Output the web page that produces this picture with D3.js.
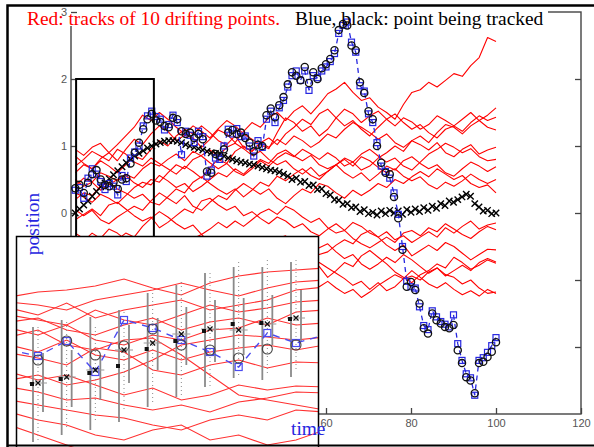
<!DOCTYPE html>
<html>
<head>
<meta charset="utf-8">
<script src="https://cdn.jsdelivr.net/npm/d3@7"></script>
<style>
  body { margin: 0; background: #fff; }
  svg { display: block; }
</style>
</head>
<body>
<svg id="chart" width="594" height="447"></svg>
<script>
// ---------- data ----------
// Drifting reference tracks (position), sampled on an even grid from t=1 to t=100
const trackA = [0.60,0.72,0.66,0.81,0.90,0.78, 0.95,1.10,1.02,1.18,1.30, 1.22,1.08,1.16,1.12,0.98, 1.10,1.24,1.18,1.05,1.22, 1.35,1.28,1.42,1.50,1.38, 1.52,1.60,1.48,1.62,1.78, 1.85,1.95,1.80,1.68,1.72, 1.58,1.50,1.40,1.62,1.80, 1.84,1.95,1.88,1.98,2.08, 2.04,2.20,2.32,2.62,2.56];
const trackB = [0.95,0.86,0.98,1.04,0.90,1.02, 1.15,1.28,1.46,1.38,1.50, 1.40,1.28,1.18,1.30,1.22, 1.12,1.26,1.38,1.30,1.18, 1.10,1.02,0.96,1.20,1.42, 1.35,1.22,1.30,1.15,1.25, 1.42,1.55,1.48,1.35,1.45, 1.52,1.40,1.30,1.42,1.36, 1.25,1.32,1.45,1.38,1.30, 1.40,1.50,1.38,1.46,1.57];
const trackC = [0.85,0.74,0.66,0.78,0.70,0.60, 0.72,0.85,0.80,0.95,1.08, 1.00,1.15,1.25,1.18,1.30, 1.20,1.08,1.02,1.15,0.98, 0.92,1.05,1.12,1.02,1.18, 1.28,1.40,1.32,1.48,1.55, 1.42,1.30,1.38,1.25,1.15, 1.28,1.40,1.48,1.35,1.25, 1.32,1.20,1.12,1.25,1.30, 1.22,1.35,1.45,1.38,1.43];
const trackD = [0.70,0.80,0.92,0.85,0.78,0.95, 0.88,0.76,0.70,0.82,0.74, 0.66,0.58,0.70,0.62,0.52, 0.68,0.80,0.74,0.92,1.00, 0.92,1.05,0.98,1.10,1.02, 1.15,1.08,0.98,1.06,1.18, 1.12,1.25,1.35,1.28,1.20, 1.10,1.18,1.05,0.98,1.08, 1.15,1.05,1.20,1.32,1.28, 1.18,1.30,1.38,1.28,1.24];
const trackE = [0.50,0.40,0.46,0.34,0.42,0.50, 0.58,0.52,0.66,0.75,0.70, 0.80,0.88,0.78,0.92,0.85, 0.75,0.66,0.74,0.62,0.56, 0.66,0.78,0.70,0.82,0.90, 0.84,0.95,0.88,0.80,0.90, 0.82,0.70,0.76,0.64,0.70, 0.82,0.90,1.00,0.92,1.08, 1.02,0.94,1.05,0.90,0.84, 0.95,1.02,0.88,0.94,0.98];
const trackF = [0.40,0.52,0.46,0.60,0.55,0.48, 0.56,0.45,0.38,0.50,0.46, 0.60,0.72,0.66,0.80,0.86, 0.94,0.85,0.98,1.04,0.96, 0.86,0.92,0.80,0.72,0.78, 0.66,0.58,0.68,0.55,0.62, 0.72,0.82,0.76,0.88,0.95, 0.85,0.76,0.82,0.70,0.64, 0.76,0.88,0.95,1.04,0.98, 0.90,0.96,0.84,0.78,0.80];
const trackG = [0.30,0.24,0.16,0.28,0.22,0.14, 0.26,0.38,0.46,0.42,0.56, 0.48,0.38,0.44,0.32,0.40, 0.50,0.60,0.54,0.66,0.58, 0.70,0.80,0.74,0.88,0.94, 0.85,0.78,0.86,0.72,0.66, 0.72,0.60,0.52,0.60,0.48, 0.58,0.70,0.64,0.78,0.84, 0.74,0.66,0.72,0.60,0.55, 0.66,0.76,0.70,0.62,0.69];
const trackH = [0.20,0.30,0.26,0.40,0.46,0.36, 0.30,0.22,0.28,0.16,0.12, 0.24,0.36,0.30,0.46,0.54, 0.44,0.35,0.28,0.36,0.24, 0.34,0.46,0.40,0.55,0.48, 0.58,0.66,0.56,0.50,0.62, 0.72,0.80,0.70,0.84,0.78, 0.68,0.60,0.66,0.55,0.48, 0.54,0.42,0.36,0.46,0.40, 0.48,0.58,0.50,0.44,0.50];
const trackI = [0.05,-0.04,0.04,-0.10,-0.16,-0.06, 0.02,0.10,0.04,0.18,0.30, 0.22,0.14,0.26,0.10,0.04, 0.16,0.26,0.20,0.34,0.44, 0.36,0.28,0.36,0.22,0.14, 0.26,0.36,0.30,0.44,0.40, 0.30,0.22,0.34,0.26,0.34, 0.44,0.38,0.50,0.44,0.54, 0.62,0.54,0.66,0.58,0.50, 0.56,0.44,0.38,0.42,0.30];
const trackJ = [-0.10,-0.02,0.06,-0.04,0.12,0.16, 0.06,-0.04,-0.12,-0.06,-0.22, -0.14,-0.04,0.06,0.00,0.18, 0.22,0.12,0.04,0.10,-0.04, 0.02,-0.08,-0.16,-0.06,-0.12, -0.22,-0.16,-0.28,-0.34,-0.24, -0.16,-0.26,-0.14,-0.20,-0.30, -0.36,-0.28,-0.40,-0.34,-0.44, -0.36,-0.28,-0.36,-0.22,-0.30, -0.20,-0.12,-0.24,-0.18,-0.15];
const trackK = [-0.30,-0.38,-0.48,-0.40,-0.50,-0.40, -0.30,-0.36,-0.20,-0.08,0.02, -0.06,-0.16,-0.24,-0.18,-0.32, -0.24,-0.14,-0.22,-0.12,-0.20, -0.10,0.00,0.06,-0.02,0.10, 0.04,-0.06,-0.14,-0.08,-0.22, -0.30,-0.26,-0.38,-0.46,-0.52, -0.44,-0.36,-0.44,-0.30,-0.26, -0.34,-0.22,-0.28,-0.16,-0.24, -0.32,-0.38,-0.28,-0.20,-0.25];
const trackL = [-0.50,-0.42,-0.30,-0.38,-0.24,-0.30, -0.40,-0.52,-0.46,-0.58,-0.64, -0.52,-0.44,-0.54,-0.38,-0.32, -0.44,-0.56,-0.62,-0.54,-0.66, -0.56,-0.44,-0.50,-0.38,-0.34, -0.46,-0.56,-0.50,-0.62,-0.58, -0.48,-0.40,-0.46,-0.32,-0.26, -0.36,-0.48,-0.56,-0.48,-0.64, -0.56,-0.48,-0.56,-0.44,-0.50, -0.60,-0.70,-0.62,-0.54,-0.55];
const trackM = [-0.70,-0.80,-0.74,-0.88,-0.82,-0.72, -0.66,-0.74,-0.58,-0.50,-0.46, -0.56,-0.68,-0.62,-0.76,-0.84, -0.74,-0.66,-0.56,-0.62,-0.48, -0.58,-0.66,-0.76,-0.66,-0.72, -0.62,-0.54,-0.44,-0.52,-0.46, -0.58,-0.68,-0.62,-0.76,-0.84, -0.76,-0.66,-0.74,-0.62,-0.70, -0.80,-0.90,-0.82,-0.94,-0.86, -0.78,-0.86,-0.74,-0.68,-0.73];
const trackN = [-0.90,-0.80,-0.86,-0.72,-0.66,-0.74, -0.84,-0.78,-0.92,-0.98,-1.04, -0.94,-0.86,-0.76,-0.82,-0.66, -0.74,-0.84,-0.90,-0.80,-0.96, -0.86,-0.76,-0.68,-0.74,-0.58, -0.66,-0.78,-0.86,-0.80,-0.96, -0.86,-0.74,-0.80,-0.64,-0.56, -0.66,-0.76,-0.88,-0.96,-1.04, -0.92,-0.86,-0.76,-0.82,-0.66, -0.74,-0.84,-0.78,-0.70,-0.75];
const trackO = [-1.20,-1.10,-1.14,-1.00,-0.94,-1.02, -0.90,-0.84,-0.94,-0.86,-0.96, -1.04,-0.98,-1.10,-1.16,-1.06, -0.98,-1.04,-0.90,-0.82,-0.78, -0.88,-0.96,-1.06,-1.00,-0.92, -0.86,-0.94,-0.80,-0.74,-0.82, -0.90,-0.98,-1.08,-1.02,-1.14, -1.04,-1.16,-1.10,-0.98,-0.94, -1.00,-0.88,-0.82,-0.92,-0.96, -1.06,-1.00,-1.12,-1.20,-1.18];
const trackP = [-1.50,-1.42,-1.36,-1.44,-1.30,-1.24, -1.32,-1.22,-1.16,-1.26,-1.20, -1.10,-1.02,-0.96,-1.04,-0.88, -0.96,-1.08,-1.14,-1.06,-1.22, -1.14,-1.04,-0.94,-1.00,-0.88, -0.96,-1.06,-1.00,-1.10,-1.02, -1.12,-1.20,-1.14,-1.26,-1.18, -1.08,-1.00,-0.92,-0.98,-0.86, -0.96,-1.06,-1.12,-1.04,-1.14, -1.22,-1.16,-1.24,-1.14,-1.20];
const redTracks = [trackA,trackB,trackC,trackD,trackE,trackF,trackG,trackH,trackI,trackJ,trackK,trackL,trackM,trackN,trackO,trackP];
const trackTimes = d3.range(trackA.length).map(i => 1 + i * 99 / (trackA.length - 1));

// Tracked point: one sample per time step t = 1..100
const stepTimes = d3.range(1, 101);
// black x: smoothed estimate
const smoothEst = [
  0.00,0.06,0.12,0.18,0.25,0.32,0.39,0.45,0.51,0.57,
  0.63,0.69,0.75,0.80,0.85,0.89,0.93,0.97,1.00,1.03,
  1.05,1.07,1.08,1.08,1.07,1.05,1.02,1.00,0.98,0.96,
  0.94,0.92,0.90,0.89,0.88,0.85,0.82,0.80,0.78,0.76,
  0.75,0.73,0.72,0.70,0.68,0.66,0.64,0.63,0.61,0.58,
  0.55,0.50,0.52,0.46,0.47,0.41,0.42,0.35,0.36,0.29,
  0.27,0.20,0.19,0.13,0.14,0.08,0.09,0.02,0.05,-0.01,
  0.01,-0.03,0.03,-0.01,0.04,0.00,0.03,-0.02,0.05,0.01,
  0.06,0.02,0.08,0.04,0.10,0.07,0.14,0.11,0.18,0.16,
  0.20,0.24,0.28,0.25,0.14,0.09,0.03,0.04,-0.01,0.00];
// black circles: filtered position
const filtered = [
  0.37,0.42,0.30,0.45,0.58,0.64,0.50,0.42,0.40,0.46,
  0.36,0.50,0.52,0.74,0.90,1.05,1.25,1.40,1.48,1.38,
  1.36,1.30,1.28,1.42,1.40,1.22,1.18,1.20,1.12,1.18,
  1.10,0.62,0.60,0.88,0.85,0.95,1.20,1.24,1.18,1.20,
  1.12,1.05,0.92,1.02,1.00,1.46,1.56,1.43,1.61,1.73,
  1.92,2.10,2.05,1.98,2.18,1.94,2.10,2.00,2.16,2.22,
  2.30,2.43,2.73,2.82,2.80,2.50,2.43,1.95,1.79,1.52,
  1.40,1.00,0.75,0.60,0.58,0.24,-0.08,-0.55,-1.10,-1.03,
  -1.15,-1.35,-1.72,-1.80,-1.50,-1.60,-1.65,-1.70,-1.72,-1.67,
  -2.05,-2.24,-2.45,-2.50,-2.69,-2.24,-2.22,-2.15,-2.07,-1.93];
// blue squares: measured position
const measured = [
  0.34,0.38,0.22,0.52,0.66,0.58,0.47,0.35,0.44,0.40,
  0.27,0.56,0.47,0.82,0.91,1.00,1.30,1.45,1.52,1.44,
  1.40,1.24,1.32,1.46,1.35,0.87,1.22,1.16,1.05,1.22,
  1.14,0.55,0.64,0.82,0.80,1.00,1.25,1.18,1.26,1.14,
  1.15,1.00,0.85,1.08,0.98,1.40,1.52,1.35,1.57,1.68,
  1.88,2.05,2.12,1.98,2.12,1.83,2.05,2.02,2.12,2.18,
  2.26,2.38,2.68,2.80,2.85,2.55,2.40,1.90,1.82,1.48,
  1.35,1.05,0.70,0.62,0.52,0.30,-0.02,-0.50,-1.02,-1.10,
  -1.12,-1.40,-1.68,-1.74,-1.46,-1.55,-1.62,-1.66,-1.70,-1.52,
  -1.95,-2.20,-2.40,-2.46,-2.72,-2.20,-2.16,-2.08,-1.98,-1.86];

const yTicks = [-3, -2, -1, 0, 1, 2, 3];
const xTicks = [0, 20, 40, 60, 80, 100, 120];
const zoomWindow = { t0: 1.2, t1: 19.5, top: 2, bottom: -3 };

// Close-up panel: ten consecutive steps
const insetSteps = d3.range(1, 11);
const insetLineSteps = d3.range(0, 12);
const insetSmoothSq = [-0.48,-0.43,-0.37,-0.30,-0.13,-0.05,0.05,0.12,0.13,0.17];
const insetSmoothX  = [-0.47,-0.41,-0.34,-0.14,-0.07,0.02,0.07,0.06,0.12,0.18];
const insetFiltered = [-0.24,-0.05,-0.19,-0.10,0.07,-0.09,-0.14,-0.22,-0.13,-0.09];
const insetMeasured = [-0.14,-0.20,-0.05,-0.36,0.16,0.08,-0.04,-0.16,-0.31,0.03,-0.07,0.01];
const insetOuterHi = [0.09,0.16,0.19,0.26,0.43,0.51,0.63,0.69,0.69,0.74];
const insetOuterLo = [-1.06,-0.99,-0.94,-0.86,-0.71,-0.61,-0.51,-0.42,-0.44,-0.41];
const insetInnerHi = [-0.17,-0.14,-0.19,0.11,0.18,0.29,0.36,0.38,0.41,0.46];
const insetInnerLo = [-0.76,-0.71,-0.64,-0.47,-0.34,-0.29,-0.26,-0.19,-0.09,-0.06];
const insetDotHi = [0.09,0.14,0.09,0.24,0.43,0.54,0.63,0.74,0.76,0.76];
const insetDotLo = [-1.07,-0.94,-0.87,-0.76,-0.67,-0.61,-0.51,-0.41,-0.37,-0.34];
const insetTracks = [
  [0.39,0.44,0.46,0.50,0.57,0.48,0.41,0.53,0.60,0.64,0.66,0.68],
  [0.34,0.31,0.26,0.36,0.41,0.46,0.53,0.46,0.40,0.48,0.54,0.56],
  [0.28,0.21,0.33,0.18,0.26,0.31,0.36,0.26,0.31,0.36,0.46,0.49],
  [0.21,0.16,0.11,0.26,0.16,0.11,0.21,0.31,0.24,0.28,0.34,0.36],
  [0.14,0.18,0.06,0.01,0.11,0.18,0.06,0.14,0.18,0.11,0.24,0.26],
  [0.08,0.01,0.11,-0.04,-0.09,0.01,-0.04,0.06,0.08,0.18,0.11,0.13],
  [-0.01,0.06,-0.09,-0.14,-0.04,-0.02,-0.19,-0.39,-0.59,-0.64,-0.69,-0.74],
  [-0.09,-0.16,-0.04,-0.19,-0.24,-0.14,-0.24,-0.16,-0.12,-0.09,-0.14,-0.09],
  [-0.17,-0.22,-0.29,-0.12,-0.16,-0.34,-0.39,-0.29,-0.24,-0.32,-0.26,-0.27],
  [-0.44,-0.39,-0.49,-0.44,-0.36,-0.24,-0.09,-0.04,0.01,-0.01,-0.04,-0.01],
  [-0.36,-0.44,-0.39,-0.49,-0.59,-0.52,-0.64,-0.59,-0.49,-0.54,-0.50,-0.51],
  [-0.51,-0.56,-0.64,-0.62,-0.69,-0.74,-0.69,-0.76,-0.66,-0.62,-0.56,-0.57],
  [-0.64,-0.69,-0.74,-0.79,-0.82,-0.89,-0.94,-0.84,-0.79,-0.84,-0.74,-0.76],
  [-0.76,-0.84,-0.89,-0.99,-1.04,-0.94,-0.89,-1.04,-0.99,-1.09,-1.04,-0.94],
  [-0.89,-0.99,-1.09,-1.19,-1.24,-1.29,-1.34,-1.24,-1.14,-1.24,-1.29,-1.34]];

// ---------- drawing ----------
const RED = "#ff0000", BLUE = "#2626e0", TICK = "#555";
const SERIF = "'Liberation Serif', 'Times New Roman', serif";
const svg = d3.select("#chart");
const x = d3.scaleLinear().domain([0, 120]).range([71, 581]);
const y = d3.scaleLinear().domain([-3, 3]).range([414, 12]);

// axes box
svg.append("rect")
  .attr("x", x(0)).attr("y", y(3))
  .attr("width", x(120) - x(0)).attr("height", y(-3) - y(3))
  .attr("fill", "none").attr("stroke", "#444").attr("stroke-width", 1.4);

// white band behind the title
svg.append("rect").attr("x", 25).attr("y", 7).attr("width", 523).attr("height", 19).attr("fill", "#fff");

function styleAxis(g) {
  g.select(".domain").remove();
  g.selectAll(".tick line").attr("stroke", "#444").attr("stroke-width", 1.3);
  g.selectAll(".tick text").attr("fill", TICK)
    .style("font-family", "'Liberation Sans', Arial, sans-serif").style("font-size", "11px");
}
svg.append("g").attr("transform", `translate(${x(0)},0)`)
  .call(d3.axisLeft(y).tickValues(yTicks).tickSize(-6).tickPadding(4).tickFormat(d3.format("d")))
  .call(styleAxis);
svg.append("g").attr("transform", `translate(${x(120)},0)`)
  .call(d3.axisRight(y).tickValues(yTicks.slice(1, -1)).tickSize(-6).tickFormat(""))
  .call(styleAxis);
svg.append("g").attr("transform", `translate(0,${y(-3)})`)
  .call(d3.axisBottom(x).tickValues(xTicks).tickSize(-6).tickPadding(5).tickFormat(d3.format("d")))
  .call(styleAxis);

// red drifting tracks
const trackLine = d3.line().x((d, i) => x(trackTimes[i])).y(d => y(d));
svg.append("g").selectAll("path").data(redTracks).join("path")
  .attr("d", trackLine).attr("fill", "none")
  .attr("stroke", RED).attr("stroke-width", 1.1).attr("stroke-linejoin", "round");

// smoothed estimate: black crosses
svg.append("g").selectAll("path").data(smoothEst).join("path")
  .attr("transform", (d, i) => `translate(${x(stepTimes[i])},${y(d)})`)
  .attr("d", "M-3.2,-3.2L3.2,3.2M-3.2,3.2L3.2,-3.2")
  .attr("stroke", "#000").attr("stroke-width", 1.4);

// measured: dashed blue line with squares
svg.append("path")
  .attr("d", d3.line().x((d, i) => x(stepTimes[i])).y(d => y(d))(measured))
  .attr("fill", "none").attr("stroke", BLUE).attr("stroke-width", 1.3)
  .attr("stroke-dasharray", "5,4");
svg.append("g").selectAll("rect").data(measured).join("rect")
  .attr("x", (d, i) => x(stepTimes[i]) - 3).attr("y", d => y(d) - 3)
  .attr("width", 6).attr("height", 6)
  .attr("fill", "none").attr("stroke", BLUE).attr("stroke-width", 1.2);
// filtered: black circles
svg.append("g").selectAll("circle").data(filtered).join("circle")
  .attr("cx", (d, i) => x(stepTimes[i])).attr("cy", d => y(d)).attr("r", 3.6)
  .attr("fill", "none").attr("stroke", "#111").attr("stroke-width", 1.3);

// window that the close-up panel enlarges
svg.append("rect")
  .attr("x", x(zoomWindow.t0)).attr("y", y(zoomWindow.top))
  .attr("width", x(zoomWindow.t1) - x(zoomWindow.t0))
  .attr("height", y(zoomWindow.bottom) - y(zoomWindow.top))
  .attr("fill", "none").attr("stroke", "#000").attr("stroke-width", 2);

// title
const title = svg.append("text").attr("y", 25)
  .style("font-family", SERIF).style("font-size", "19.4px");
title.append("tspan").attr("x", 27).attr("fill", RED).text("Red: tracks of 10 drifting points.");
title.append("tspan").attr("x", 295).attr("fill", "#000").text("Blue, black: point being tracked");

// ---------- close-up panel ----------
const inset = { x: 16.5, y: 236.5, w: 302, h: 212 };
const xi = d3.scaleLinear().domain([1, 10]).range([38, 296]);
const yi = d3.scaleLinear().domain([-1.1, 1.0]).range([446, 236]);
svg.append("clipPath").attr("id", "insetClip")
  .append("rect").attr("x", inset.x).attr("y", inset.y).attr("width", inset.w).attr("height", inset.h);
svg.append("rect").attr("x", inset.x).attr("y", inset.y).attr("width", inset.w).attr("height", inset.h)
  .attr("fill", "#fff");
const ig = svg.append("g").attr("clip-path", "url(#insetClip)");

ig.append("g").selectAll("path").data(insetTracks).join("path")
  .attr("d", d3.line().x((d, i) => xi(insetLineSteps[i])).y(d => yi(d)))
  .attr("fill", "none").attr("stroke", "#ff3030").attr("stroke-width", 1.1);

const bars = ig.append("g");
bars.selectAll("line.outer").data(insetSteps).join("line").attr("class", "outer")
  .attr("x1", d => xi(d) - 5).attr("x2", d => xi(d) - 5)
  .attr("y1", (d, i) => yi(insetOuterHi[i])).attr("y2", (d, i) => yi(insetOuterLo[i]))
  .attr("stroke", "#8a8a8a").attr("stroke-width", 1.8);
bars.selectAll("line.inner").data(insetSteps).join("line").attr("class", "inner")
  .attr("x1", d => xi(d) + 5).attr("x2", d => xi(d) + 5)
  .attr("y1", (d, i) => yi(insetInnerHi[i])).attr("y2", (d, i) => yi(insetInnerLo[i]))
  .attr("stroke", "#8a8a8a").attr("stroke-width", 1.8);
bars.selectAll("line.dot").data(insetSteps).join("line").attr("class", "dot")
  .attr("x1", d => xi(d)).attr("x2", d => xi(d))
  .attr("y1", (d, i) => yi(insetDotHi[i])).attr("y2", (d, i) => yi(insetDotLo[i]))
  .attr("stroke", "#8a8a8a").attr("stroke-width", 1).attr("stroke-dasharray", "1,3");

ig.append("path")
  .attr("d", d3.line().x((d, i) => xi(insetLineSteps[i])).y(d => yi(d))(insetMeasured))
  .attr("fill", "none").attr("stroke", "#4a4af0").attr("stroke-width", 1.4).attr("stroke-dasharray", "7,6");
ig.append("g").selectAll("rect").data(insetSteps).join("rect")
  .attr("x", d => xi(d) - 3.5).attr("y", (d, i) => yi(insetMeasured[i + 1]) - 3.5)
  .attr("width", 7).attr("height", 7)
  .attr("fill", "none").attr("stroke", "#4a4af0").attr("stroke-width", 1.2);
ig.append("g").selectAll("circle").data(insetSteps).join("circle")
  .attr("cx", d => xi(d)).attr("cy", (d, i) => yi(insetFiltered[i])).attr("r", 5)
  .attr("fill", "none").attr("stroke", "#444").attr("stroke-width", 1.1);

const est = ig.append("g");
est.selectAll("line").data(insetSteps).join("line")
  .attr("x1", d => xi(d) - 9).attr("x2", d => xi(d) + 9)
  .attr("y1", (d, i) => yi(insetSmoothX[i])).attr("y2", (d, i) => yi(insetSmoothX[i]))
  .attr("stroke", "#999").attr("stroke-width", 1);
est.selectAll("rect").data(insetSteps).join("rect")
  .attr("x", d => xi(d) - 8).attr("y", (d, i) => yi(insetSmoothSq[i]) - 2)
  .attr("width", 4).attr("height", 4).attr("fill", "#111");
est.selectAll("path").data(insetSteps).join("path")
  .attr("transform", (d, i) => `translate(${xi(d)},${yi(insetSmoothX[i])})`)
  .attr("d", "M-2.5,-2.5L2.5,2.5M-2.5,2.5L2.5,-2.5")
  .attr("stroke", "#111").attr("stroke-width", 1.2);

svg.append("rect").attr("x", inset.x).attr("y", inset.y).attr("width", inset.w).attr("height", inset.h)
  .attr("fill", "none").attr("stroke", "#000").attr("stroke-width", 1.5);

// axis labels
svg.append("text")
  .attr("transform", "translate(39,224) rotate(-90)")
  .attr("text-anchor", "middle").attr("fill", BLUE)
  .style("font-family", SERIF).style("font-size", "19.4px")
  .text("position");
svg.append("text").attr("x", 291).attr("y", 435).attr("fill", BLUE)
  .style("font-family", SERIF).style("font-size", "19.4px")
  .text("time");

// outer frame
svg.append("path").attr("d", "M7.5,447V5.5H594").attr("fill", "none").attr("stroke", "#000").attr("stroke-width", 2.5);
svg.append("line").attr("x1", 7).attr("x2", 594).attr("y1", 445.5).attr("y2", 445.5)
  .attr("stroke", "#000").attr("stroke-width", 2);
</script>
</body>
</html>
